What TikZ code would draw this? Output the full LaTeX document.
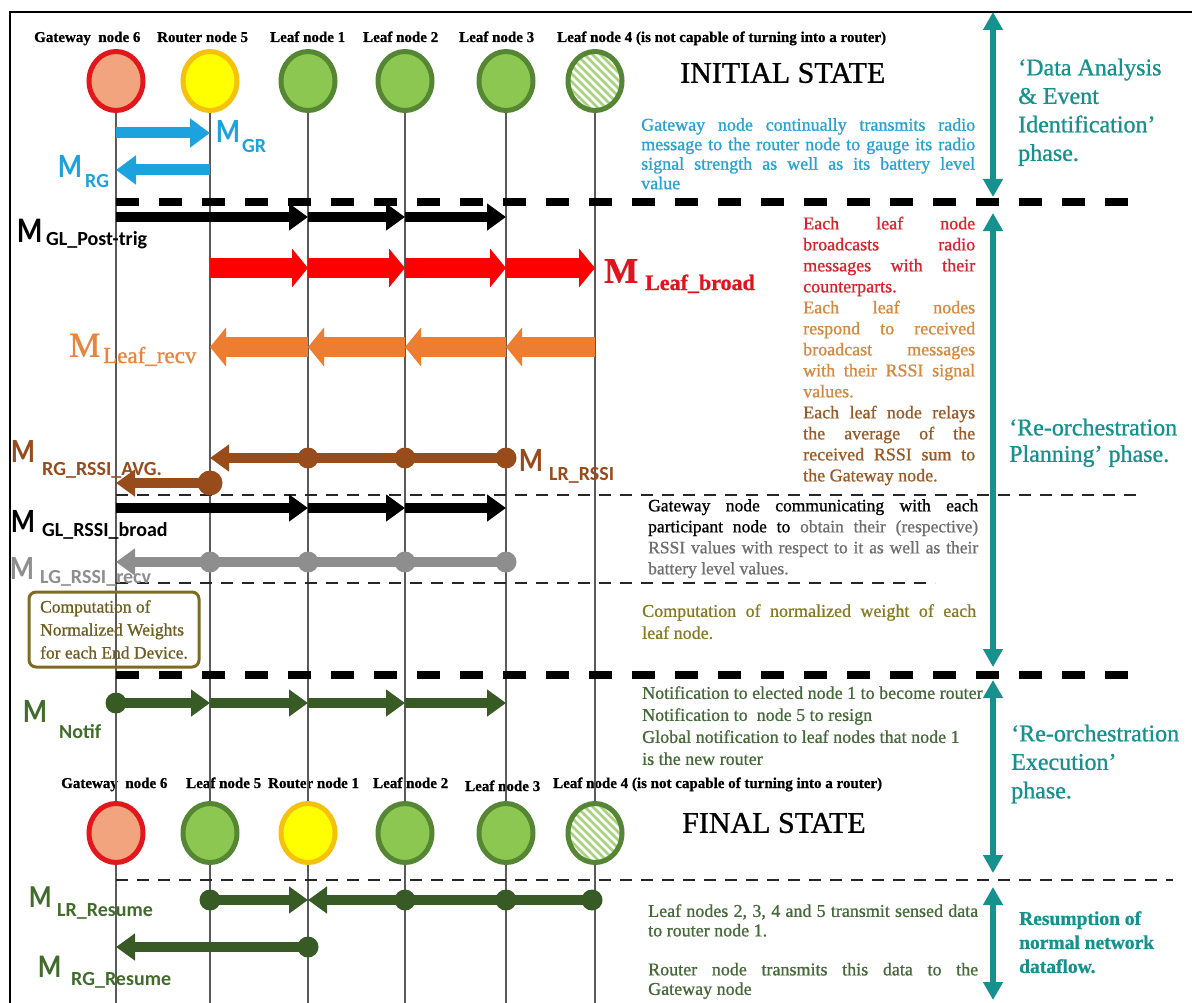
\documentclass[tikz,border=0pt]{standalone}
\usepackage{fontspec}
\setmainfont{Liberation Serif}[FakeBold=0.9]
\newfontfamily\calibri{Carlito}
\newfontfamily\calibriM{Carlito}[FakeStretch=0.8]
\usetikzlibrary{arrows.meta,shapes.geometric}

\definecolor{gwfill}{HTML}{F2A47F}
\definecolor{gwline}{HTML}{E3161B}
\definecolor{rtfill}{HTML}{FFFF00}
\definecolor{rtline}{HTML}{F4C20D}
\definecolor{lffill}{HTML}{8CC751}
\definecolor{lfline}{HTML}{558633}
\definecolor{hatchgreen}{HTML}{A8D27E}
\definecolor{lifegray}{HTML}{5A5A5A}
\definecolor{mblue}{HTML}{1CA2DE}
\definecolor{cyantxt}{HTML}{27A2D2}
\definecolor{teal1}{HTML}{17918E}
\definecolor{mred}{HTML}{FF0000}
\definecolor{redlbl}{HTML}{E0141E}
\definecolor{redtxt}{HTML}{D8232A}
\definecolor{morange}{HTML}{ED7D31}
\definecolor{orangelbl}{HTML}{E8843C}
\definecolor{orangetxt}{HTML}{D6883E}
\definecolor{mbrown}{HTML}{984C1C}
\definecolor{browntxt}{HTML}{9A5A26}
\definecolor{mgray}{HTML}{8E8E8E}
\definecolor{graytxt}{HTML}{6F6F6F}
\definecolor{mgreen}{HTML}{385A25}
\definecolor{greenlbl}{HTML}{426C2C}
\definecolor{greentxt}{HTML}{46693A}
\definecolor{boxolive}{HTML}{7E6B1F}
\definecolor{olivetxt}{HTML}{6E5E22}
\definecolor{olivert}{HTML}{877A26}

\newcommand{\fs}[2]{\fontsize{#1}{#2}\selectfont}
\newcommand{\JL}[2]{\makebox[#1][s]{#2}}

\begin{document}
\begin{tikzpicture}[x=1pt,y=-1pt,
  lifeline/.style={draw=lifegray,line width=1.3pt},
  circ/.style={ellipse,inner sep=0pt,minimum width=54pt,minimum height=59pt,line width=5pt},
  gwnode/.style={circ,draw=gwline,fill=gwfill},
  rtnode/.style={circ,draw=rtline,fill=rtfill},
  lfnode/.style={circ,draw=lfline,fill=lffill},
  hatchnode/.style={circ,draw=lfline,fill=white,path picture={
      \foreach \k in {-96,-88,...,96}{
        \draw[hatchgreen,line width=2.6pt]
          ([shift={(\k-45,-45)}]path picture bounding box.center) -- ++(90,90);}}},
  hdr/.style={anchor=base west,inner sep=0pt,font=\bfseries\fs{15}{18}},
  bigdash/.style={draw=black,line width=8pt,dash pattern=on 23pt off 20pt},
  smalldash/.style={draw=black!85,line width=2.5pt,dash pattern=on 12pt off 9pt},
  msg/.style={line width=10pt,arrows={-Triangle[length=19pt,width=26pt]}},
  fatmsg/.style={line width=20pt,arrows={-Triangle[length=16pt,width=38pt]}},
  bluemsg/.style={draw=mblue,line width=11pt,arrows={-Triangle[length=20pt,width=28pt]}},
  msgdot/.style={circle,inner sep=0pt,minimum size=21pt},
  phasearrow/.style={draw=teal1,line width=6pt,
      arrows={Triangle[length=18pt,width=19pt]-Triangle[length=18pt,width=19pt]}},
  Mbig/.style={anchor=south west,inner sep=0pt,font=\calibriM\bfseries\fs{34}{34}},
  Msub/.style={anchor=base west,inner sep=0pt,font=\calibri\bfseries\fs{20}{20}},
  txt/.style={anchor=north west,inner sep=0pt,align=left},
  phasetxt/.style={txt,text=teal1,font=\fs{24}{28.5}},
  statetxt/.style={anchor=west,inner sep=0pt,font=\fs{30}{30}},
  borderline/.style={draw=black,line width=1.2pt},
  compbox/.style={draw=boxolive,line width=3pt,rounded corners=7pt,minimum width=170pt,
      minimum height=75pt,inner sep=0pt,text=olivetxt,align=left,font=\fs{17.5}{23}}
]
\useasboundingbox (0,0) rectangle (1196,1003);
\fill[white] (0,0) rectangle (1196,1003);

% outer frame (top and left edges)
\coordinate (fr-tr) at (1192,12);
\coordinate (fr-tl) at (10,12);
\coordinate (fr-bl) at (10,1003);
\draw[borderline] (fr-tr) -- (fr-tl) -- (fr-bl);

% lifeline columns and message rows
\foreach \n/\x in {g/116,r/210,a/308,b/405,c/506,d/595}{
  \coordinate (T-\n) at (\x,81);
  \coordinate (F-\n) at (\x,833);
  \coordinate (B-\n) at (\x,1003);
}
\foreach \r/\y in {GR/133,RG/170,D1/202,PT/217,LB/268,LR/347,LS/458,RA/483,D2/495,GB/508,
                   LG/562,D3/583,D4/675,NT/703,D5/880,RS/900,RR/947}{
  \foreach \n/\x in {g/116,r/210,a/308,b/405,c/506,d/595}{
    \coordinate (\r-\n) at (\x,\y);
  }
}

% final-state labels (the lifelines run across them)
\node[hdr] (fl-g) at (61,788) {Gateway\ \ node 6};
\node[hdr] (fl-r) at (186,788) {Leaf node 5};
\node[hdr] (fl-a) at (268,788) {Router node 1};
\node[hdr] (fl-b) at (373,788) {Leaf node 2};
\node[hdr] (fl-c) at (465,791) {Leaf node 3};
\node[hdr] (fl-d) at (553,788) {Leaf node 4 (is not capable of turning into a router)};

% lifelines
\foreach \n in {g,r,a,b,c,d}{
  \draw[lifeline] (T-\n) -- (B-\n);
}

% initial state nodes
\node[hdr] (il-g) at (34,42) {Gateway\ \ node 6};
\node[hdr] (il-r) at (157,42) {Router node 5};
\node[hdr] (il-a) at (270,42) {Leaf node 1};
\node[hdr] (il-b) at (363,42) {Leaf node 2};
\node[hdr] (il-c) at (459,42) {Leaf node 3};
\node[hdr] (il-d) at (557,42) {Leaf node 4 (is not capable of turning into a router)};
\node[gwnode] (tg) at (T-g) {};
\node[rtnode] (tr) at (T-r) {};
\node[lfnode] (ta) at (T-a) {};
\node[lfnode] (tb) at (T-b) {};
\node[lfnode] (tc) at (T-c) {};
\node[hatchnode] (td) at (T-d) {};
\node[statetxt] (initial) at (680,73) {INITIAL STATE};

% final state nodes
\node[gwnode] (fg) at (F-g) {};
\node[lfnode] (fr) at (F-r) {};
\node[rtnode] (fa) at (F-a) {};
\node[lfnode] (fb) at (F-b) {};
\node[lfnode] (fc) at (F-c) {};
\node[hatchnode] (fd) at (F-d) {};
\node[statetxt] (final) at (682,823) {FINAL STATE};

% phase separators
\coordinate (D1-e) at (1146,202);
\coordinate (D2-e) at (1142,495);
\coordinate (D3-e) at (935,583);
\coordinate (D4-e) at (1146,675);
\coordinate (D5-e) at (1173,880);
\draw[bigdash] (D1-g) -- (D1-e);
\draw[smalldash] (D2-g) -- (D2-e);
\draw[smalldash] (D3-g) -- (D3-e);
\draw[bigdash] (D4-g) -- (D4-e);
\draw[smalldash] (D5-g) -- (D5-e);

% phase arrows
\coordinate (P1a) at (993,12);  \coordinate (P1b) at (993,197);
\coordinate (P2a) at (993,213); \coordinate (P2b) at (993,667);
\coordinate (P3a) at (993,680); \coordinate (P3b) at (993,873);
\coordinate (P4a) at (993,887); \coordinate (P4b) at (993,1000);
\draw[phasearrow] (P1a) -- (P1b);
\draw[phasearrow] (P2a) -- (P2b);
\draw[phasearrow] (P3a) -- (P3b);
\draw[phasearrow] (P4a) -- (P4b);

% gateway <-> router probing
\draw[bluemsg] (GR-g) -- (GR-r);
\draw[bluemsg] (RG-r) -- (RG-g);
\node[Mbig,text=mblue] (mgr) at (216,143) {M};
\node[Msub,text=mblue] (mgr-s) at (242,153) {GR};
\node[Mbig,text=mblue] (mrg) at (58,178) {M};
\node[Msub,text=mblue] (mrg-s) at (85,188) {RG};

% post-trigger broadcast from the gateway
\draw[msg,draw=black] (PT-g) -- (PT-a);
\draw[msg,draw=black] (PT-a) -- (PT-b);
\draw[msg,draw=black] (PT-b) -- (PT-c);
\node[Mbig,text=black,font=\calibriM\bfseries\fs{36}{36}] (mpt) at (17,243) {M};
\node[Msub,text=black] (mpt-s) at (46,245) {GL\_Post-trig};

% leaf broadcast
\draw[fatmsg,draw=mred] (LB-r) -- (LB-a);
\draw[fatmsg,draw=mred] (LB-a) -- (LB-b);
\draw[fatmsg,draw=mred] (LB-b) -- (LB-c);
\draw[fatmsg,draw=mred] (LB-c) -- (LB-d);
\node[anchor=south west,inner sep=0pt,text=redlbl,font=\bfseries\fs{36}{36}] (mlb) at (604,283) {M};
\node[anchor=base west,inner sep=0pt,text=redlbl,font=\bfseries\fs{22}{22}] (mlb-s) at (645,290) {Leaf\_broad};

% leaf replies
\draw[fatmsg,draw=morange] (LR-d) -- (LR-c);
\draw[fatmsg,draw=morange] (LR-c) -- (LR-b);
\draw[fatmsg,draw=morange] (LR-b) -- (LR-a);
\draw[fatmsg,draw=morange] (LR-a) -- (LR-r);
\node[anchor=south west,inner sep=0pt,text=orangelbl,font=\fs{35}{35}] (mlr) at (69,357) {M};
\node[anchor=base west,inner sep=0pt,text=orangelbl,font=\fs{23}{23}] (mlr-s) at (103,363) {Leaf\_recv};

% averaged RSSI relayed to the router, then to the gateway
\draw[msg,draw=mbrown] (LS-c) -- (LS-r);
\node[msgdot,fill=mbrown] (ls-a) at (LS-a) {};
\node[msgdot,fill=mbrown] (ls-b) at (LS-b) {};
\node[msgdot,fill=mbrown] (ls-c) at (LS-c) {};
\draw[msg,draw=mbrown] (RA-r) -- (RA-g);
\node[msgdot,fill=mbrown,minimum size=25pt] (ra-r) at (RA-r) {};
\node[Mbig,text=mbrown] (mra) at (11,463) {M};
\node[Msub,text=mbrown] (mra-s) at (42,475) {RG\_RSSI\_AVG.};
\node[Mbig,text=mbrown] (mls) at (519,472) {M};
\node[Msub,text=mbrown] (mls-s) at (549,480) {LR\_RSSI};

% gateway RSSI broadcast
\draw[msg,draw=black] (GB-g) -- (GB-a);
\draw[msg,draw=black] (GB-a) -- (GB-b);
\draw[msg,draw=black] (GB-b) -- (GB-c);
\node[Mbig,text=black] (mgb) at (11,533) {M};
\node[Msub,text=black] (mgb-s) at (42,536) {GL\_RSSI\_broad};

% RSSI replies to the gateway
\draw[msg,draw=mgray] (LG-c) -- (LG-g);
\node[msgdot,fill=mgray] (lg-r) at (LG-r) {};
\node[msgdot,fill=mgray] (lg-a) at (LG-a) {};
\node[msgdot,fill=mgray] (lg-b) at (LG-b) {};
\node[msgdot,fill=mgray] (lg-c) at (LG-c) {};
\node[Mbig,text=mgray] (mlg) at (10,580) {M};
\node[Msub,text=mgray] (mlg-s) at (40,583) {LG\_RSSI\_recv};

% weight computation
\node[compbox] (cbox) at (114,629.5) {Computation of\\Normalized Weights\\for each End Device.};

% notifications
\draw[msg,draw=mgreen] (NT-g) -- (NT-r);
\draw[msg,draw=mgreen] (NT-r) -- (NT-a);
\draw[msg,draw=mgreen] (NT-a) -- (NT-b);
\draw[msg,draw=mgreen] (NT-b) -- (NT-c);
\node[msgdot,fill=mgreen] (nt-g) at (NT-g) {};
\node[Mbig,text=greenlbl] (mnt) at (23,723) {M};
\node[Msub,text=greenlbl] (mnt-s) at (59,738) {Notif};

% resumed data flow
\coordinate (RS-dd) at (592,900);
\draw[msg,draw=mgreen] (RS-r) -- (RS-a);
\draw[msg,draw=mgreen] (RS-dd) -- (RS-a);
\node[msgdot,fill=mgreen] (rs-r) at (RS-r) {};
\node[msgdot,fill=mgreen] (rs-b) at (RS-b) {};
\node[msgdot,fill=mgreen] (rs-c) at (RS-c) {};
\node[msgdot,fill=mgreen] (rs-d) at (RS-dd) {};
\draw[msg,draw=mgreen] (RR-a) -- (RR-g);
\node[msgdot,fill=mgreen] (rr-a) at (RR-a) {};
\node[Mbig,text=greenlbl,font=\calibriM\bfseries\fs{32}{32}] (mrs) at (29,908) {M};
\node[Msub,text=greenlbl] (mrs-s) at (57,916) {LR\_Resume};
\node[Mbig,text=greenlbl,font=\calibriM\bfseries\fs{33}{33}] (mrr) at (38,978) {M};
\node[Msub,text=greenlbl] (mrr-s) at (71,985) {RG\_Resume};

% explanatory texts
\node[txt,text=cyantxt,font=\fs{18}{19.5}] (t-probe) at (641,118) {%
  \JL{334pt}{Gateway node continually transmits radio}\\
  \JL{334pt}{message to the router node to gauge its radio}\\
  \JL{334pt}{signal strength as well as its battery level}\\
  value};

\node[txt,font=\fs{18}{21}] (t-plan) at (803,216.5) {%
  \textcolor{redtxt}{\JL{172pt}{Each leaf node}}\\
  \textcolor{redtxt}{\JL{172pt}{broadcasts radio}}\\
  \textcolor{redtxt}{\JL{172pt}{messages with their}}\\
  \textcolor{redtxt}{counterparts.}\\
  \textcolor{orangetxt}{\JL{172pt}{Each leaf nodes}}\\
  \textcolor{orangetxt}{\JL{172pt}{respond to received}}\\
  \textcolor{orangetxt}{\JL{172pt}{broadcast messages}}\\
  \textcolor{orangetxt}{\JL{172pt}{with their RSSI signal}}\\
  \textcolor{orangetxt}{values.}\\
  \textcolor{browntxt}{\JL{172pt}{Each leaf node relays}}\\
  \textcolor{browntxt}{\JL{172pt}{the average of the}}\\
  \textcolor{browntxt}{\JL{172pt}{received RSSI sum to}}\\
  \textcolor{browntxt}{the Gateway node.}};

\node[txt,font=\fs{17.5}{21}] (t-rssi) at (648,499) {%
  \JL{330pt}{Gateway node communicating with each}\\
  \JL{330pt}{participant node to \textcolor{graytxt}{obtain their (respective)}}\\
  \textcolor{graytxt}{\JL{330pt}{RSSI values with respect to it as well as their}}\\
  \textcolor{graytxt}{battery level values.}};

\node[txt,text=olivert,font=\fs{18}{22}] (t-weight) at (642,604) {%
  \JL{334pt}{Computation of normalized weight of each}\\
  leaf node.};

\node[txt,text=greentxt,font=\fs{18}{22}] (t-notif) at (642,686) {%
  Notification to elected node 1 to become router\\
  Notification to\ \ node 5 to resign\\
  Global notification to leaf nodes that node 1\\
  is the new router};

\node[txt,text=greentxt,font=\fs{18}{19.5}] (t-resume) at (648,904) {%
  \JL{330pt}{Leaf nodes 2, 3, 4 and 5 transmit sensed data}\\
  to router node 1.\\[19.5pt]
  \JL{330pt}{Router node transmits this data to the}\\
  Gateway node};

% phase names
\node[phasetxt] (ph1) at (1018,58.5) {`Data Analysis\\\& Event\\Identification'\\phase.};
\node[phasetxt,font=\fs{24}{26.5}] (ph2) at (1009,418.5) {`Re-orchestration\\Planning' phase.};
\node[phasetxt] (ph3) at (1011,724.5) {`Re-orchestration\\Execution'\\phase.};
\node[txt,text=teal1,font=\bfseries\fs{19.5}{24}] (ph4) at (1019,911) {Resumption of\\normal network\\dataflow.};
\end{tikzpicture}
\end{document}
